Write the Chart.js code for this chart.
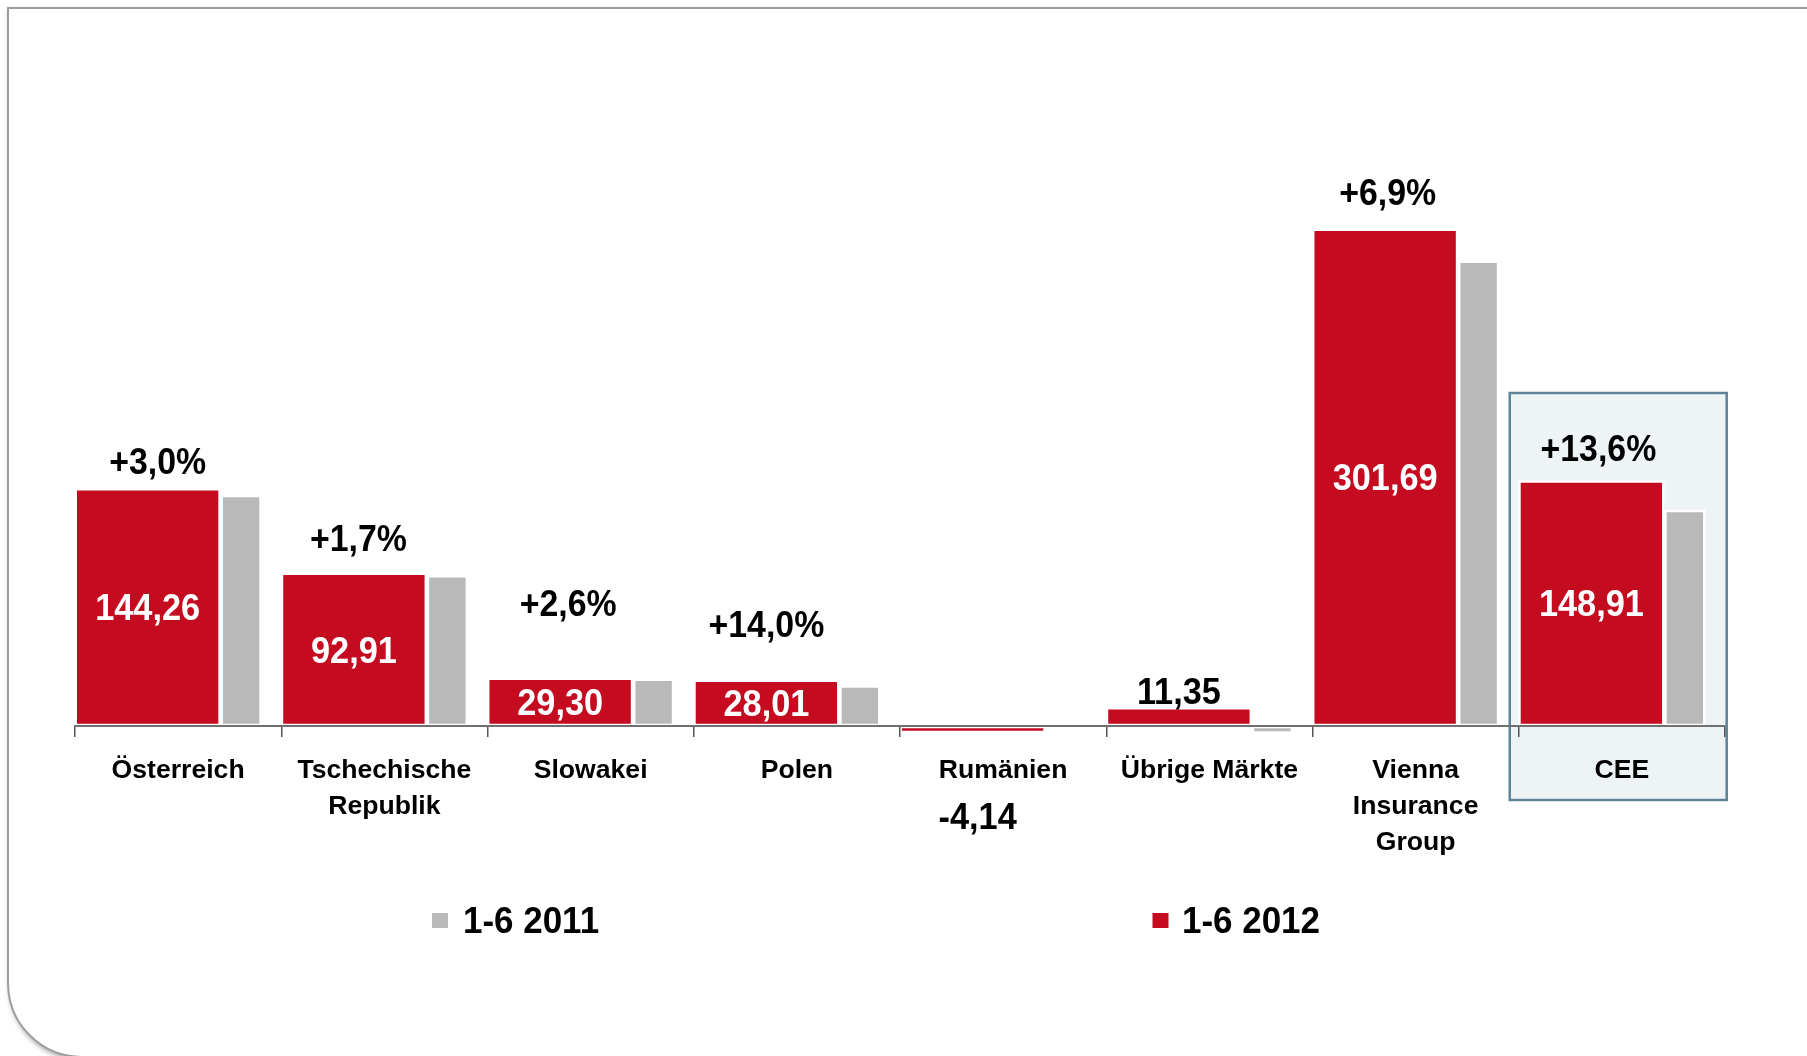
<!DOCTYPE html>
<html>
<head>
<meta charset="utf-8">
<script src="https://cdn.jsdelivr.net/npm/chart.js@4.4.1/dist/chart.umd.min.js"></script>
<style>
html,body{margin:0;padding:0;background:#fff;width:1807px;height:1056px;overflow:hidden;}
#frame{position:absolute;left:7px;top:7px;width:1900px;height:1051px;border:2px solid #9c9c9c;border-bottom-left-radius:75px;box-shadow:2px 3px 5px rgba(0,0,0,0.35);box-sizing:border-box;}
#c{position:absolute;left:0;top:0;}
</style>
</head>
<body>
<div id="frame"></div>
<canvas id="c" width="1807" height="1056"></canvas>
<script>
// ---- data ----
const categories = ['Österreich', ['Tschechische', 'Republik'], 'Slowakei', 'Polen', 'Rumänien', 'Übrige Märkte', ['Vienna', 'Insurance', 'Group'], 'CEE'];
const seriesNames = ['1-6 2011', '1-6 2012'];
const values2011 = [140.06, 91.36, 28.56, 24.57, null, -4.5, 282.22, 131.08];
const values2012 = [144.26, 92.91, 29.30, 28.01, -4.14, 11.35, 301.69, 148.91];
const changeLabels = ['+3,0%', '+1,7%', '+2,6%', '+14,0%', '', '', '+6,9%', '+13,6%'];

// ---- styles ----
const RED = '#c50b20';
const GRAY = '#b9b9b9';
const FONT = "'Liberation Sans', Arial, sans-serif";
const TEXT_SX = 0.94;        // slight horizontal condensing of the big labels
const TEXT_DY = 3;
const RED_SHIFT = -0.1478;   // bar centre offsets within category (category units)
const GRAY_SHIFT = 0.3055;

const fmt = v => v.toFixed(2).replace('.', ',');

function drawText(ctx, txt, x, y, align, color, size) {
  ctx.save();
  ctx.translate(x, y + TEXT_DY);
  ctx.scale(TEXT_SX, 1);
  ctx.font = 'bold ' + (size || 36) + 'px ' + FONT;
  ctx.textAlign = align;
  ctx.textBaseline = 'middle';
  ctx.fillStyle = color;
  ctx.fillText(txt, 0, 0);
  ctx.restore();
}

const decorPlugin = {
  id: 'decor',
  beforeDraw(chart, args, opts) {
    const {ctx} = chart;
    const xb = chart.scales.xb, y = chart.scales.y;
    const y0 = y.getPixelForValue(0);
    const i = opts.highlightIndex;
    const l = xb.getPixelForValue(i - 0.5) + opts.box.left;
    const r = xb.getPixelForValue(i + 0.5) + opts.box.right;
    const t = y0 + opts.box.top, b = y0 + opts.box.bottom;
    ctx.save();
    ctx.fillStyle = '#eef3f6';
    ctx.fillRect(l, t, r - l, b - t);
    ctx.lineWidth = 2.5;
    ctx.strokeStyle = '#5e8397';
    ctx.strokeRect(l, t, r - l, b - t);
    ctx.restore();
  },
  afterDatasetsDraw(chart, args, opts) {
    const {ctx} = chart;
    const y0 = chart.scales.y.getPixelForValue(0);
    const meta = chart.getDatasetMeta(1);
    meta.data.forEach((el, i) => {
      const v = values2012[i];
      if (v == null) return;
      const txt = fmt(v);
      if (v >= 20) {
        drawText(ctx, txt, el.x, (el.y + el.base) / 2, 'center', '#ffffff', 36.5);
      } else if (v >= 0) {
        drawText(ctx, txt, el.x, el.y - 16, 'center', '#000000', 36.5);
      } else {
        drawText(ctx, txt, el.x + 5, y0 + 90, 'center', '#000000', 36.5);
      }
      const c = changeLabels[i];
      if (c) {
        drawText(ctx, c, el.x + opts.pctDx[i], el.y + opts.pctDy[i], 'center', '#000000', 36);
      }
    });
  },
  afterDraw(chart, args, opts) {
    const {ctx} = chart;
    chart.data.datasets.forEach((ds, i) => {
      const it = opts.legend[i];
      ctx.save();
      ctx.fillStyle = ds.backgroundColor;
      ctx.fillRect(it.boxX, opts.legendY - 7.5, 16, 15);
      ctx.restore();
      drawText(ctx, ds.label, it.textX, opts.legendY - 1, 'left', '#000000', 37.2);
    });
  }
};

new Chart(document.getElementById('c'), {
  type: 'bar',
  data: {
    labels: categories,
    datasets: [
      {
        label: seriesNames[0],
        data: values2011.map((v, i) => ({x: i + GRAY_SHIFT, y: v})),
        backgroundColor: GRAY,
        borderColor: '#ffffff',
        borderWidth: 2.5,
        borderSkipped: false,
        barThickness: 40.7,
        xAxisID: 'xb',
        grouped: false
      },
      {
        label: seriesNames[1],
        data: values2012.map((v, i) => ({x: i + RED_SHIFT, y: v})),
        backgroundColor: RED,
        borderColor: '#ffffff',
        borderWidth: 2.5,
        borderSkipped: false,
        barThickness: 145.7,
        xAxisID: 'xb',
        grouped: false
      }
    ]
  },
  options: {
    responsive: false,
    animation: false,
    events: [],
    layout: {padding: {left: 75, right: 82, top: 66.8, bottom: 313.52}},
    plugins: {
      legend: {display: false},
      tooltip: {enabled: false},
      decor: {
        highlightIndex: 7,
        box: {left: -9, right: 1.7, top: -333, bottom: 74},
        pctDx: [10, 4.5, 8, 0, 0, 0, 2.5, 7],
        pctDy: [-27.4, -35.2, -74.7, -56.1, 0, 0, -36.5, -32.4],
        legendY: 920.5,
        legend: [{boxX: 432, textX: 463}, {boxX: 1152.5, textX: 1182}]
      }
    },
    scales: {
      xb: {
        type: 'linear',
        display: false,
        min: -0.5,
        max: 7.5,
        offset: false
      },
      x: {
        type: 'category',
        position: {y: 0},
        offset: true,
        grid: {display: true, drawOnChartArea: false, drawTicks: true, tickLength: 10, color: '#555555', lineWidth: 1.5, offset: true, z: 1},
        border: {display: true, color: '#707070', width: 2, z: 1},
        ticks: {
          z: 1,
          color: '#000000',
          font: {family: FONT, size: 26.6, weight: 'bold', lineHeight: 1.342},
          padding: 17,
          maxRotation: 0,
          autoSkip: false
        }
      },
      y: {
        type: 'linear',
        display: false,
        min: -10,
        max: 400
      }
    }
  },
  plugins: [decorPlugin]
});
</script>
</body>
</html>
